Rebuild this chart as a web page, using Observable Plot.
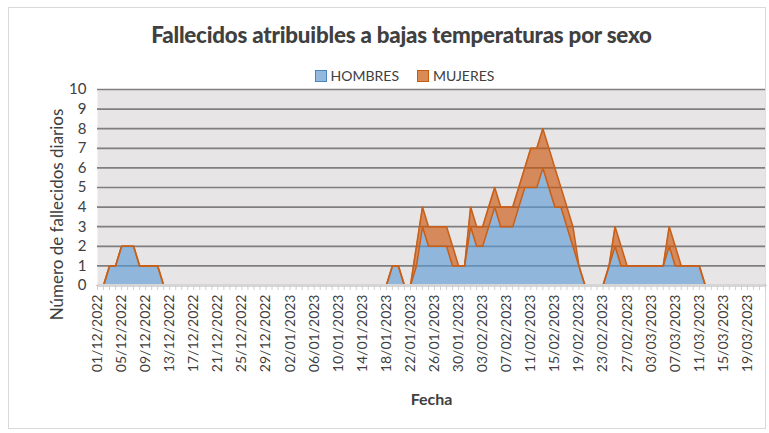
<!DOCTYPE html>
<html>
<head>
<meta charset="utf-8">
<script src="https://cdn.jsdelivr.net/npm/d3@7"></script>
<script src="https://cdn.jsdelivr.net/npm/@observablehq/plot@0.6"></script>
<style>
  body { margin: 0; background: #fff; font-family: Lato, "Open Sans", sans-serif; }
  #wrap { position: relative; width: 769px; height: 433px; overflow: hidden; }
  #border { position: absolute; left: 8px; top: 7px; width: 756px; height: 420px; border: 1px solid #d9d9d9; }
  #title { position: absolute; left: 17px; width: 769px; top: 23px; line-height: 24px; text-align: center;
           font-weight: 900; font-size: 22.3px; color: #404040; letter-spacing: -0.2px; }
  #legend { position: absolute; left: 20px; width: 769px; top: 68px; line-height: 16px; display: flex;
            justify-content: center; gap: 18px; font-size: 14px; color: #404040; }
  #legend span.item { display: flex; align-items: center; }
  #legend span.sw { display: inline-block; width: 10px; height: 10px; margin-right: 4px; }
  #chart { position: absolute; left: 0; top: 78px; }
</style>
</head>
<body>
<div id="wrap">
  <div id="border"></div>
  <div id="title">Fallecidos atribuibles a bajas temperaturas por sexo</div>
  <div id="legend"></div>
  <div id="chart"></div>
</div>
<script>
// ---- data ----
const startDate = "01/12/2022";
const endDate = "22/03/2023";
const seriesNames = ["HOMBRES", "MUJERES"];
const hombres = [
  0,0,1,1,2,2,2,1,1,1,
  1,0,0,0,0,0,0,0,0,0,
  0,0,0,0,0,0,0,0,0,0,
  0,0,0,0,0,0,0,0,0,0,
  0,0,0,0,0,0,0,0,0,1,
  1,0,0,1,3,2,2,2,2,1,
  1,1,3,2,2,3,4,3,3,3,
  4,5,5,5,6,5,4,4,3,2,
  1,0,0,0,0,1,2,1,1,1,
  1,1,1,1,1,2,1,1,1,1,
  1,0,0,0,0,0,0,0,0,0,
  0,0
];
const mujeres = [
  0,0,0,0,0,0,0,0,0,0,
  0,0,0,0,0,0,0,0,0,0,
  0,0,0,0,0,0,0,0,0,0,
  0,0,0,0,0,0,0,0,0,0,
  0,0,0,0,0,0,0,0,0,0,
  0,0,0,1,1,1,1,1,1,1,
  0,0,1,1,1,1,1,1,1,1,
  1,1,2,2,2,2,2,1,1,1,
  0,0,0,0,0,0,1,1,0,0,
  0,0,0,0,0,1,1,0,0,0,
  0,0,0,0,0,0,0,0,0,0,
  0,0
];
const tickLabels = [
  "01/12/2022","05/12/2022","09/12/2022","13/12/2022","17/12/2022","21/12/2022","25/12/2022",
  "29/12/2022","02/01/2023","06/01/2023","10/01/2023","14/01/2023","18/01/2023","22/01/2023",
  "26/01/2023","30/01/2023","03/02/2023","07/02/2023","11/02/2023","15/02/2023","19/02/2023",
  "23/02/2023","27/02/2023","03/03/2023","07/03/2023","11/03/2023","15/03/2023","19/03/2023"
];
const yTicks = [0,1,2,3,4,5,6,7,8,9,10];

// ---- build ----
const parse = d3.utcParse("%d/%m/%Y");
const fmt = d3.utcFormat("%d/%m/%Y");
const t0 = parse(startDate), t1 = parse(endDate);
const dates = d3.utcDay.range(t0, d3.utcDay.offset(t1, 1));
const tickDates = tickLabels.map(parse);

const colors = { HOMBRES: "#5B9BD5", MUJERES: "#CC5208" };
const long = [
  ...dates.map((d, i) => ({ date: d, sexo: "HOMBRES", value: hombres[i] })),
  ...dates.map((d, i) => ({ date: d, sexo: "MUJERES", value: mujeres[i] }))
];
const totals = dates.map((d, i) => ({ date: d, h: hombres[i], t: hombres[i] + mujeres[i] }));

// legend
const legend = document.getElementById("legend");
const legendFill = { HOMBRES: "#95B9DE", MUJERES: "#D98B56" };
const legendStroke = { HOMBRES: "#4A86C0", MUJERES: "#C55A11" };
for (const s of seriesNames) {
  const it = document.createElement("span");
  it.className = "item";
  it.innerHTML = `<span class="sw" style="background:${legendFill[s]};border:1px solid ${legendStroke[s]}"></span>${s}`;
  legend.appendChild(it);
}

const orange = "#C8601A";
const chart = Plot.plot({
  width: 769,
  height: 355,
  marginLeft: 97,
  marginRight: 4,
  marginTop: 11,
  marginBottom: 148,
  style: { fontFamily: "Lato, 'Open Sans', sans-serif", background: "transparent", overflow: "visible" },
  x: { type: "utc", domain: [t0, t1] },
  y: { domain: [0, 10] },
  color: { domain: seriesNames, range: seriesNames.map(s => colors[s]) },
  marks: [
    Plot.frame({ fill: "#E7E5E5", stroke: null }),
    Plot.ruleY(yTicks.slice(1), { stroke: "#7f7f7f", strokeWidth: 1.7 }),
    Plot.areaY(long, { x: "date", y: "value", fill: "sexo", fillOpacity: 0.62, curve: "linear" }),
    Plot.lineY(totals, { x: "date", y: "h", stroke: orange, strokeWidth: 1.6 }),
    Plot.lineY(totals, { x: "date", y: "t", stroke: orange, strokeWidth: 1.6 }),
    Plot.ruleY([0], { stroke: "#d6d6d6", strokeWidth: 3 }),
    Plot.axisX({ ticks: dates, tickSize: 5, tickFormat: () => "", stroke: "#cfcfcf", label: null }),
    Plot.axisX({ ticks: tickDates, tickSize: 0, tickRotate: -90, tickPadding: 9, tickFormat: fmt,
                 fontSize: 14, fill: "#404040", label: null }),
    Plot.axisY({ ticks: yTicks, tickSize: 0, tickPadding: 11, fontSize: 15, fill: "#404040", label: null }),
    Plot.text(["Número de fallecidos diarios"], { frameAnchor: "left", textAnchor: "middle", dx: -40, dy: 27,
                 rotate: -90, fontSize: 17, fill: "#404040" }),
    Plot.text(["Fecha"], { frameAnchor: "bottom", dy: 119, fontSize: 16, fontWeight: "bold", fill: "#404040" })
  ]
});
document.getElementById("chart").appendChild(chart);
</script>
</body>
</html>
